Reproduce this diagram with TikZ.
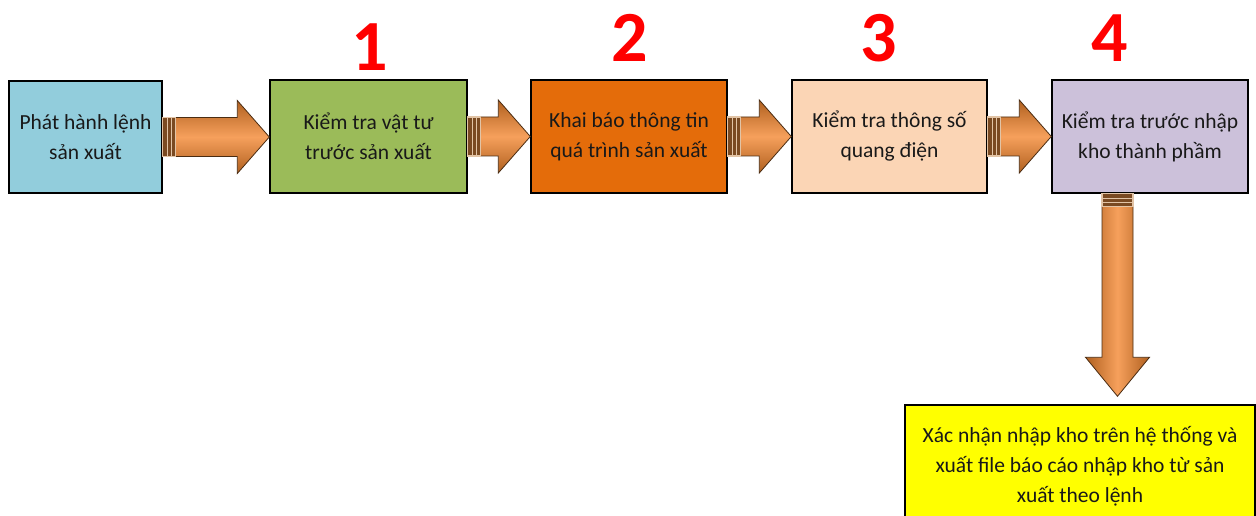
\documentclass[tikz,border=0pt]{standalone}
\usepackage{fontspec}
\setmainfont{Carlito}
\usetikzlibrary{calc}
\definecolor{cBlue}{HTML}{92CDDC}
\definecolor{cGreen}{HTML}{9BBB59}
\definecolor{cOrange}{HTML}{E46C0A}
\definecolor{cPeach}{HTML}{FBD5B5}
\definecolor{cLav}{HTML}{CCC1DA}
\definecolor{cYellow}{HTML}{FFFF00}
\definecolor{arrEdge}{HTML}{B0601F}
\definecolor{arrMid}{HTML}{F6A05C}
\definecolor{arrLine}{HTML}{4A2C12}
\definecolor{stripeDark}{HTML}{7A4A22}
\definecolor{stripeLight}{HTML}{E2C4A6}
\newcommand{\harrow}[2]{%
  \draw[arrH] let \p1=(#1.east), \p2=(#2.west) in
    (\x1,{\y1+19.5pt}) -- ({\x2-32pt},{\y1+19.5pt}) -- ({\x2-32pt},{\y1+36.5pt})
    -- (\x2,\y1) -- ({\x2-32pt},{\y1-36.5pt}) -- ({\x2-32pt},{\y1-19.5pt})
    -- (\x1,{\y1-19.5pt}) -- cycle;
  \path let \p1=(#1.east) in
    [fill=stripeDark] (\x1,{\y1+19.5pt}) rectangle ({\x1+13pt},{\y1-19.5pt})
    [draw=stripeLight, line width=1.2pt]
    ({\x1+4.5pt},{\y1+19pt}) -- ({\x1+4.5pt},{\y1-19pt})
    ({\x1+9pt},{\y1+19pt}) -- ({\x1+9pt},{\y1-19pt});
}
\begin{document}
\begin{tikzpicture}[x=1pt,y=-1pt,
  box/.style={draw=black, line width=1.4pt, align=center, inner sep=0pt,
    font=\fontsize{21.5}{30}\selectfont, text=black!90},
  num/.style={text=red, font=\fontsize{72}{72}\selectfont\bfseries,
    anchor=base, inner sep=0pt},
  arrH/.style={draw=arrLine, line width=0.8pt, top color=arrEdge,
    bottom color=arrEdge, middle color=arrMid},
  arrV/.style={draw=arrLine, line width=0.8pt, left color=arrEdge,
    right color=arrEdge, middle color=arrMid}]
\clip (0,0) rectangle (1256,516);
\fill[white] (0,0) rectangle (1256,516);

\node[box, fill=cBlue, minimum width=153pt, minimum height=112pt] (b0) at (85.5,137)
  {Phát hành lệnh\\sản xuất};
\node[box, fill=cGreen, minimum width=197pt, minimum height=113pt] (b1) at (368.5,136.5)
  {Kiểm tra vật tư\\trước sản xuất};
\node[box, fill=cOrange, minimum width=196pt, minimum height=113pt] (b2) at (629,136.5)
  {Khai báo thông tin\\quá trình sản xuất};
\node[box, fill=cPeach, minimum width=195pt, minimum height=113pt] (b3) at (889.5,136.5)
  {Kiểm tra thông số\\quang điện};
\node[box, fill=cLav, minimum width=196pt, minimum height=113pt] (b4) at (1150,136.5)
  {Kiểm tra trước nhập\\kho thành phầm};
\node[box, fill=cYellow, minimum width=350pt, minimum height=122pt] (b5) at (1080,466)
  {Xác nhận nhập kho trên hệ thống và\\xuất file báo cáo nhập kho từ sản\\xuất theo lệnh};

\node[num] (n1) at (370,71) {1};
\node[num] (n2) at (630,62) {2};
\node[num] (n3) at (879,62) {3};
\node[num] (n4) at (1110,62) {4};

\harrow{b0}{b1}
\harrow{b1}{b2}
\harrow{b2}{b3}
\harrow{b3}{b4}

\draw[arrV] let \p1=($(b4.south)+(-32.5pt,0pt)$), \p2=(b5.north) in
  ({\x1-15.5pt},\y1) -- ({\x1-15.5pt},{\y2+47pt}) -- ({\x1-32pt},{\y2+47pt})
  -- (\x1,{\y2+8pt}) -- ({\x1+32pt},{\y2+47pt}) -- ({\x1+15.5pt},{\y2+47pt})
  -- ({\x1+15.5pt},\y1) -- cycle;
\path let \p1=($(b4.south)+(-32.5pt,0pt)$) in
  [fill=stripeDark] ({\x1-15.5pt},\y1) rectangle ({\x1+15.5pt},{\y1-13pt})
  [draw=stripeLight, line width=1.2pt]
  ({\x1-15pt},{\y1-4.5pt}) -- ({\x1+15pt},{\y1-4.5pt})
  ({\x1-15pt},{\y1-9pt}) -- ({\x1+15pt},{\y1-9pt});
\end{tikzpicture}
\end{document}
